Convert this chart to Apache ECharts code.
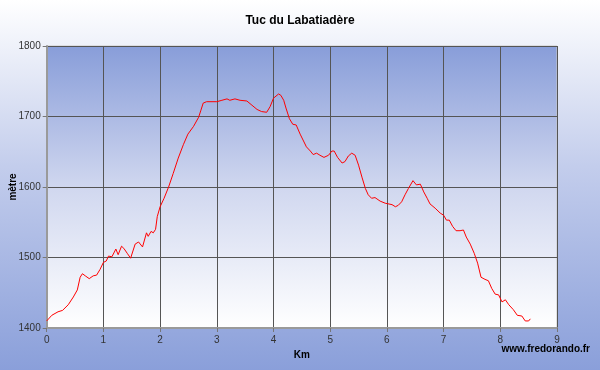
<!DOCTYPE html>
<html><head><meta charset="utf-8">
<script src="https://cdn.jsdelivr.net/npm/echarts@6/dist/echarts.min.js"></script>
<style>html,body{margin:0;padding:0;}#c{width:600px;height:370px;}</style>
</head><body><div id="c"></div>
<script>
const titleText = "Tuc du Labatiadère";
const xName = "Km";
const yName = "mètre";
const footer = "www.fredorando.fr";
const km = [0,0.03,0.09,0.2,0.28,0.38,0.47,0.54,0.59,0.63,0.68,0.75,0.82,0.88,0.94,1.0,1.05,1.09,1.15,1.22,1.26,1.32,1.36,1.42,1.48,1.56,1.62,1.65,1.69,1.76,1.79,1.84,1.88,1.92,1.95,2.0,2.07,2.15,2.23,2.32,2.41,2.49,2.59,2.68,2.72,2.76,2.82,3.0,3.09,3.18,3.23,3.32,3.41,3.53,3.62,3.71,3.79,3.88,3.94,4.0,4.09,4.13,4.18,4.22,4.28,4.34,4.40,4.47,4.58,4.65,4.70,4.76,4.82,4.89,4.97,5.03,5.07,5.13,5.21,5.26,5.32,5.38,5.44,5.50,5.56,5.62,5.67,5.73,5.79,5.88,5.97,6.09,6.15,6.20,6.26,6.32,6.38,6.46,6.52,6.59,6.65,6.71,6.76,6.85,6.94,7.0,7.05,7.1,7.16,7.22,7.29,7.35,7.40,7.47,7.54,7.60,7.66,7.73,7.79,7.85,7.91,7.97,8.03,8.09,8.15,8.23,8.30,8.38,8.44,8.50,8.53];
const elev = [1410,1411,1418,1423,1425,1433,1444,1454,1472,1477,1474,1470,1474,1475,1483,1493,1495,1502,1501,1512,1504,1516,1513,1506,1499,1519,1522,1522,1515,1535,1530,1537,1535,1540,1558,1572,1584,1600,1619,1641,1660,1675,1686,1699,1709,1719,1721,1721,1723,1725,1723,1725,1723,1722,1716,1710,1707,1706,1714,1726,1732,1730,1723,1712,1697,1689,1688,1675,1657,1651,1646,1648,1645,1642,1645,1651,1651,1642,1634,1636,1644,1648,1645,1631,1614,1598,1589,1584,1585,1580,1577,1575,1572,1574,1579,1589,1598,1609,1603,1604,1593,1584,1576,1570,1563,1560,1553,1553,1544,1538,1538,1539,1529,1519,1506,1492,1472,1469,1467,1456,1448,1447,1437,1440,1433,1426,1418,1417,1410,1410,1413];
const xTicks = [0,9,1];
const yTicks = [1400,1800,100];

const chart = echarts.init(document.getElementById('c'), null, {renderer:'canvas'});
const font = "'Liberation Sans', Arial, sans-serif";
chart.setOption({
  animation:false,
  backgroundColor: new echarts.graphic.LinearGradient(0,0,0,1,[{offset:0,color:'#ffffff'},{offset:0.45,color:'#c3cdec'},{offset:1,color:'#8a9fda'}]),
  title:{text:titleText,left:'center',top:10,textStyle:{fontFamily:font,fontSize:12,fontWeight:'bold',color:'#000'}},
  grid:{left:46.7,right:43,top:46,bottom:42,containLabel:false,outerBoundsMode:'none',show:true,borderColor:'#c8c8c8',borderWidth:1,
    backgroundColor:new echarts.graphic.LinearGradient(0,0,0,1,[{offset:0,color:'#889dd9'},{offset:0.5,color:'#d0d7ef'},{offset:1,color:'#ffffff'}])},
  xAxis:{type:'value',min:xTicks[0],max:xTicks[1],interval:xTicks[2],
    name:xName,nameLocation:'middle',nameGap:21,nameTextStyle:{fontFamily:font,fontSize:10,fontWeight:'bold',color:'#000'},
    axisLine:{show:true,onZero:false,lineStyle:{color:'#9a9a9a',width:2}},
    axisTick:{show:true,length:4,lineStyle:{color:'#777'}},
    axisLabel:{fontFamily:font,fontSize:10,color:'#333',margin:7,formatter:v=>String(v)},
    splitLine:{show:true,lineStyle:{color:'#555',width:1}}},
  yAxis:{type:'value',min:yTicks[0],max:yTicks[1],interval:yTicks[2],
    axisLine:{show:true,lineStyle:{color:'#9a9a9a',width:2}},
    axisTick:{show:true,length:4,lineStyle:{color:'#777'}},
    axisLabel:{fontFamily:font,fontSize:10,color:'#333',margin:6,formatter:v=>String(v)},
    splitLine:{show:true,lineStyle:{color:'#555',width:1}}},
  graphic:[
    {type:'text',right:10,top:344,style:{text:footer,font:'bold 10px '+font,fill:'#000'}},
    {type:'text',x:13,y:187,rotation:Math.PI/2,style:{text:yName,font:'bold 10px '+font,fill:'#000',align:'center',verticalAlign:'middle'}}
  ],
  series:[{type:'line',data:km.map((k,i)=>[k,elev[i]]),showSymbol:false,symbol:'none',
    lineStyle:{color:'#ff0000',width:1}}]
});
</script></body></html>
